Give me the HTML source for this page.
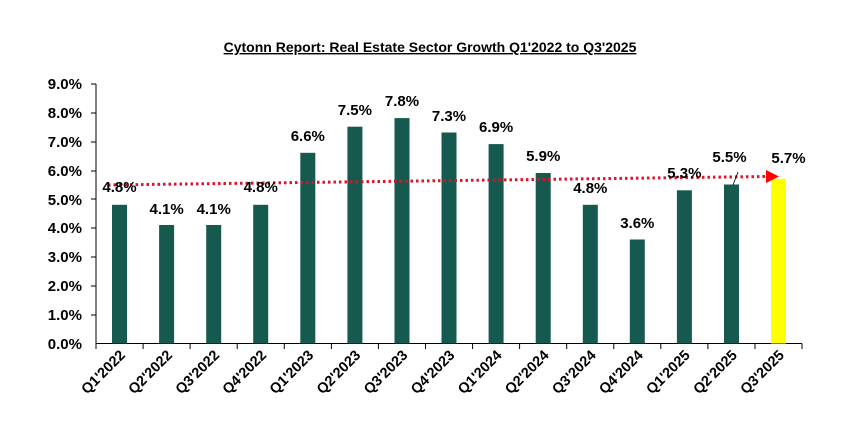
<!DOCTYPE html>
<html><head><style>body{margin:0;background:#fff}</style></head><body>
<svg width="860" height="420" xmlns="http://www.w3.org/2000/svg" font-family="Liberation Sans, sans-serif" font-weight="bold">
<rect width="860" height="420" fill="#fff"/>
<text x="430" y="52" text-anchor="middle" font-size="14" text-decoration="underline">Cytonn Report: Real Estate Sector Growth Q1'2022 to Q3'2025</text>
<line x1="96" y1="84" x2="96" y2="343.5" stroke="#000"/>
<line x1="96" y1="343.5" x2="802" y2="343.5" stroke="#000"/>
<g font-size="15" text-anchor="end">
<text x="82" y="89">9.0%</text><text x="82" y="118">8.0%</text><text x="82" y="147">7.0%</text><text x="82" y="176">6.0%</text><text x="82" y="205">5.0%</text><text x="82" y="233">4.0%</text><text x="82" y="262">3.0%</text><text x="82" y="291">2.0%</text><text x="82" y="320">1.0%</text><text x="82" y="349">0.0%</text>
</g>
<g stroke="#000">
<line x1="91" y1="84" x2="96" y2="84"/><line x1="91" y1="113" x2="96" y2="113"/><line x1="91" y1="142" x2="96" y2="142"/><line x1="91" y1="171" x2="96" y2="171"/><line x1="91" y1="199" x2="96" y2="199"/><line x1="91" y1="228" x2="96" y2="228"/><line x1="91" y1="257" x2="96" y2="257"/><line x1="91" y1="286" x2="96" y2="286"/><line x1="91" y1="315" x2="96" y2="315"/>
<line x1="96" y1="343.5" x2="96" y2="349"/><line x1="143.1" y1="343.5" x2="143.1" y2="349"/><line x1="190.1" y1="343.5" x2="190.1" y2="349"/><line x1="237.2" y1="343.5" x2="237.2" y2="349"/><line x1="284.3" y1="343.5" x2="284.3" y2="349"/><line x1="331.4" y1="343.5" x2="331.4" y2="349"/><line x1="378.4" y1="343.5" x2="378.4" y2="349"/><line x1="425.5" y1="343.5" x2="425.5" y2="349"/><line x1="472.6" y1="343.5" x2="472.6" y2="349"/><line x1="519.6" y1="343.5" x2="519.6" y2="349"/><line x1="566.7" y1="343.5" x2="566.7" y2="349"/><line x1="613.8" y1="343.5" x2="613.8" y2="349"/><line x1="660.8" y1="343.5" x2="660.8" y2="349"/><line x1="707.9" y1="343.5" x2="707.9" y2="349"/><line x1="755" y1="343.5" x2="755" y2="349"/><line x1="802" y1="343.5" x2="802" y2="349"/>
</g>
<g fill="#165a4f">
<rect x="112" y="204.8" width="15" height="138.7"/>
<rect x="159.1" y="225" width="15" height="118.5"/>
<rect x="206.2" y="225" width="15" height="118.5"/>
<rect x="253.2" y="204.8" width="15" height="138.7"/>
<rect x="300.3" y="152.8" width="15" height="190.7"/>
<rect x="347.4" y="126.7" width="15" height="216.8"/>
<rect x="394.5" y="118.1" width="15" height="225.4"/>
<rect x="441.5" y="132.5" width="15" height="211"/>
<rect x="488.6" y="144.1" width="15" height="199.4"/>
<rect x="535.7" y="173" width="15" height="170.5"/>
<rect x="582.8" y="204.8" width="15" height="138.7"/>
<rect x="629.8" y="239.5" width="15" height="104"/>
<rect x="676.9" y="190.3" width="15" height="153.2"/>
<rect x="724" y="184.5" width="15" height="159"/>
</g>
<rect x="771" y="178.8" width="15" height="164.7" fill="#ffff00"/>
<line x1="108" y1="185" x2="766" y2="176.5" stroke="#e0102a" stroke-width="3" stroke-dasharray="2.5,3"/>
<polygon points="766,170 779,176.5 766,183" fill="#f00"/>
<line x1="733" y1="185" x2="738" y2="172" stroke="#000" stroke-width="0.8"/>
<g font-size="15" text-anchor="middle">
<text x="119.5" y="192">4.8%</text>
<text x="166.6" y="214">4.1%</text>
<text x="213.7" y="214">4.1%</text>
<text x="260.7" y="192">4.8%</text>
<text x="307.8" y="141">6.6%</text>
<text x="354.9" y="115">7.5%</text>
<text x="402" y="106">7.8%</text>
<text x="449" y="121">7.3%</text>
<text x="496.1" y="132">6.9%</text>
<text x="543.2" y="161">5.9%</text>
<text x="590.3" y="193">4.8%</text>
<text x="637.3" y="228">3.6%</text>
<text x="684.4" y="178">5.3%</text>
<text x="729.5" y="162">5.5%</text>
<text x="788.5" y="163">5.7%</text>
</g>
<g font-size="14.5" text-anchor="end">
<text transform="translate(126,356) rotate(-45)">Q1'2022</text>
<text transform="translate(173.1,356) rotate(-45)">Q2'2022</text>
<text transform="translate(220.2,356) rotate(-45)">Q3'2022</text>
<text transform="translate(267.2,356) rotate(-45)">Q4'2022</text>
<text transform="translate(314.3,356) rotate(-45)">Q1'2023</text>
<text transform="translate(361.4,356) rotate(-45)">Q2'2023</text>
<text transform="translate(408.5,356) rotate(-45)">Q3'2023</text>
<text transform="translate(455.5,356) rotate(-45)">Q4'2023</text>
<text transform="translate(502.6,356) rotate(-45)">Q1'2024</text>
<text transform="translate(549.7,356) rotate(-45)">Q2'2024</text>
<text transform="translate(596.8,356) rotate(-45)">Q3'2024</text>
<text transform="translate(643.8,356) rotate(-45)">Q4'2024</text>
<text transform="translate(690.9,356) rotate(-45)">Q1'2025</text>
<text transform="translate(738,356) rotate(-45)">Q2'2025</text>
<text transform="translate(785,356) rotate(-45)">Q3'2025</text>
</g>
</svg>
</body></html>
